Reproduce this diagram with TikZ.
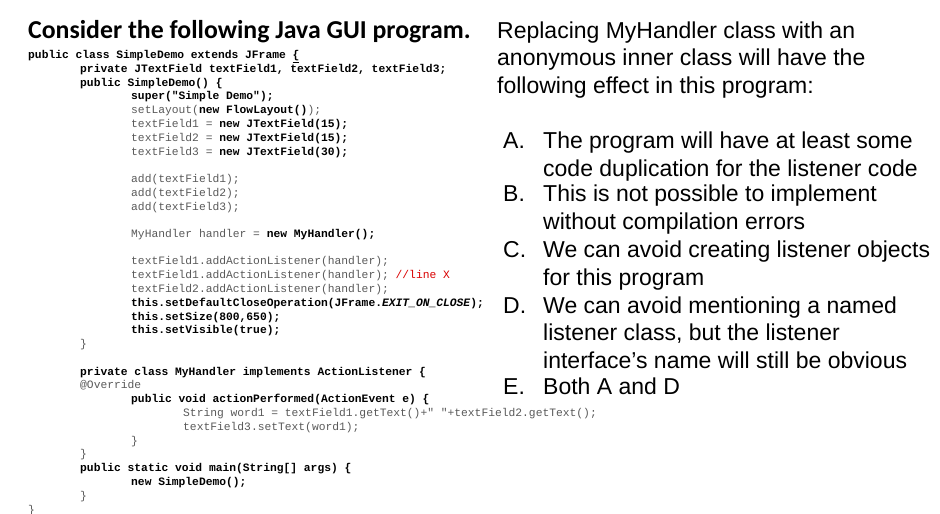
\documentclass[tikz,border=0pt]{standalone}
\usepackage{fontspec}
\setmainfont{Liberation Sans}
\newfontfamily\titlefont{Carlito}
\newfontfamily\codefont{Liberation Mono}
\begin{document}
\begin{tikzpicture}[x=1pt,y=-1pt,
  code/.style={anchor=base west,inner sep=0pt,font=\codefont\fontsize{11.3}{13}\selectfont,text=black!65},
  kw/.style={code,text=black,font=\codefont\bfseries\fontsize{11.3}{13}\selectfont},
  rt/.style={anchor=base west,inner sep=0pt,font=\fontsize{23}{26}\selectfont}]
\useasboundingbox (0,0) rectangle (940,514);
\node[anchor=base west,inner sep=0pt,font=\titlefont\bfseries\fontsize{25.8}{28}\selectfont] (title) at (28,38) {Consider the following Java GUI program.};
\node[kw] (c1) at (28,58) {public class SimpleDemo extends JFrame \underline{\{}};
\node[kw] (c2) at (80,72) {private JTextField textField1, textField2, textField3;};
\node[kw] (c3) at (80,86) {public SimpleDemo() \{};
\node[kw] (c4) at (131,99) {super("Simple Demo");};
\node[code] (c5) at (131,113) {setLayout(\textbf{\textcolor{black}{new FlowLayout()}});};
\node[code] (c6) at (131,127) {textField1 = \textbf{\textcolor{black}{new JTextField(15);}}};
\node[code] (c7) at (131,141) {textField2 = \textbf{\textcolor{black}{new JTextField(15);}}};
\node[code] (c8) at (131,155) {textField3 = \textbf{\textcolor{black}{new JTextField(30);}}};
\node[code] (c9) at (131,182) {add(textField1);};
\node[code] (c10) at (131,196) {add(textField2);};
\node[code] (c11) at (131,210) {add(textField3);};
\node[code] (c12) at (131,237) {MyHandler handler = \textbf{\textcolor{black}{new MyHandler();}}};
\node[code] (c13) at (131,264) {textField1.addActionListener(handler);};
\node[code] (c14) at (131,278) {textField1.addActionListener(handler); \textcolor{red!85!black}{//line X}};
\node[code] (c15) at (131,292) {textField2.addActionListener(handler);};
\node[kw] (c16) at (131,306) {this.setDefaultCloseOperation(JFrame.\textit{EXIT\_ON\_CLOSE});};
\node[kw] (c17) at (131,320) {this.setSize(800,650);};
\node[kw] (c18) at (131,333) {this.setVisible(true);};
\node[code] (c19) at (80,347) {\}};
\node[kw] (c20) at (80,375) {private class MyHandler implements ActionListener \{};
\node[code] (c21) at (80,388) {@Override};
\node[kw] (c22) at (131,402) {public void actionPerformed(ActionEvent e) \{};
\node[code] (c23) at (183,416) {String word1 = textField1.getText()+" "+textField2.getText();};
\node[code] (c24) at (183,430) {textField3.setText(word1);};
\node[code] (c25) at (131,444) {\}};
\node[code] (c26) at (80,457) {\}};
\node[kw] (c27) at (80,471) {public static void main(String[] args) \{};
\node[kw] (c28) at (131,485) {new SimpleDemo();};
\node[code] (c29) at (80,499) {\}};
\node[code] (c30) at (28,513) {\}};
% right side
\node[rt] (r1) at (497,38) {Replacing MyHandler class with an};
\node[rt] (r2) at (497,65) {anonymous inner class will have the};
\node[rt] (r3) at (497,93) {following effect in this program:};
\foreach \lab/\y/\t in {A./148/{The program will have at least some},
  /176/{code duplication for the listener code},
  B./201/{This is not possible to implement},
  /229/{without compilation errors},
  C./257/{We can avoid creating listener objects},
  /285/{for this program},
  D./313/{We can avoid mentioning a named},
  /340/{listener class, but the listener},
  /368/{interface’s name will still be obvious},
  E./394/{Both A and D}}{
  \node[rt] at (503,\y) {\lab};
  \node[rt] at (543,\y) {\t};
}
\end{tikzpicture}
\end{document}
